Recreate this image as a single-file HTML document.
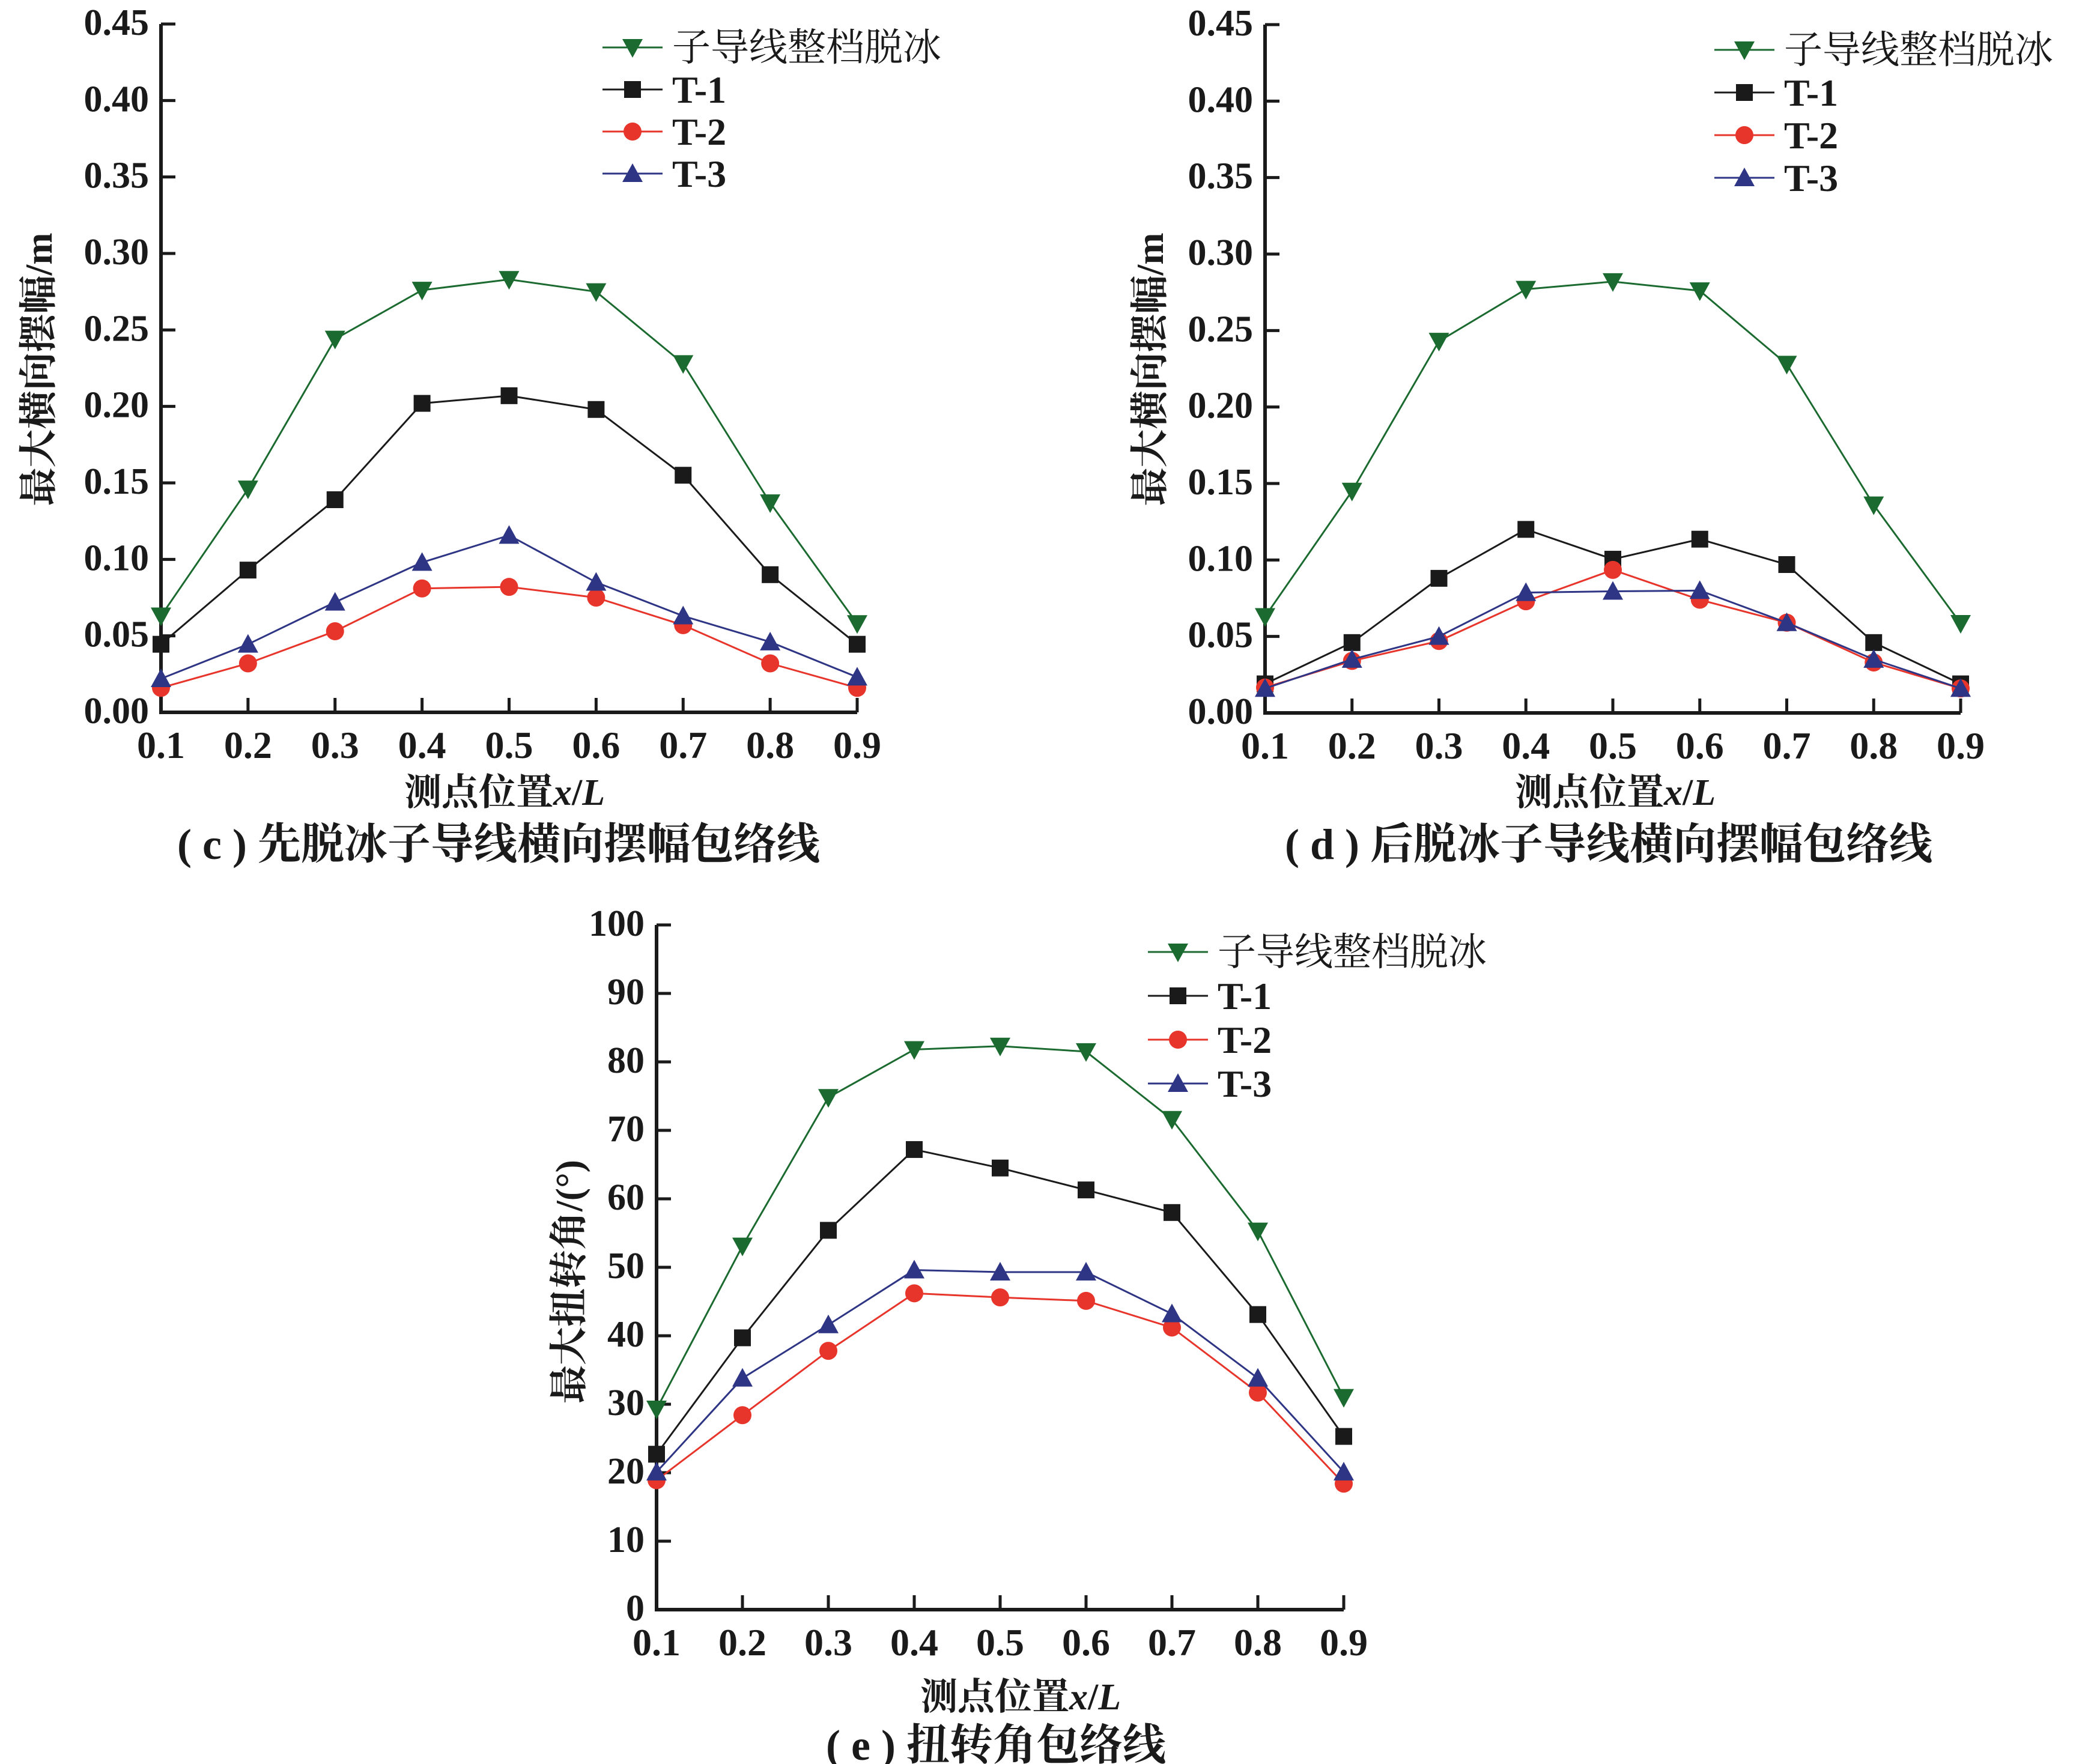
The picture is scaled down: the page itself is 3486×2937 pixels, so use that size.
<!DOCTYPE html>
<html><head><meta charset="utf-8">
<style>
html,body{margin:0;padding:0;background:#fff;}
svg{display:block;}
text{font-family:"Liberation Serif","Noto Serif CJK SC",serif;fill:#1a1a1a;}
</style></head>
<body>
<svg id="fig" width="3486" height="2937" viewBox="0 0 3486 2937" xmlns="http://www.w3.org/2000/svg"></svg>
<script>
// ---- data ----
const xCats = [0.1,0.2,0.3,0.4,0.5,0.6,0.7,0.8,0.9];
const xTickLabels = ["0.1","0.2","0.3","0.4","0.5","0.6","0.7","0.8","0.9"];
const ampTickLabels = ["0.00","0.05","0.10","0.15","0.20","0.25","0.30","0.35","0.40","0.45"];
const ampTicks = [0,0.05,0.1,0.15,0.2,0.25,0.3,0.35,0.4,0.45];
const angTickLabels = ["0","10","20","30","40","50","60","70","80","90","100"];
const angTicks = [0,10,20,30,40,50,60,70,80,90,100];
const seriesNames = ["子导线整档脱冰","T-1","T-2","T-3"];

const cGreen = [0.063,0.146,0.244,0.276,0.283,0.275,0.228,0.137,0.058];
const cT1 = [0.0445,0.093,0.139,0.202,0.207,0.198,0.155,0.090,0.0445];
const cT2 = [0.016,0.032,0.053,0.081,0.082,0.075,0.057,0.032,0.016];
const cT3 = [0.022,0.0445,0.072,0.098,0.1157,0.085,0.063,0.046,0.023];

const dGreen = [0.063,0.145,0.243,0.277,0.282,0.276,0.228,0.136,0.0585];
const dT1 = [0.019,0.046,0.088,0.120,0.1005,0.1136,0.097,0.046,0.019];
const dT2 = [0.0166,0.034,0.047,0.073,0.0935,0.074,0.059,0.033,0.016];
const dT3 = [0.016,0.035,0.050,0.0787,0.0795,0.080,0.059,0.035,0.016];

const eGreen = [29.3,53.1,74.8,81.8,82.3,81.5,71.6,55.3,31.0];
const eT1 = [22.7,39.7,55.4,67.2,64.5,61.3,58.0,43.1,25.3];
const eT2 = [18.9,28.4,37.8,46.2,45.6,45.1,41.2,31.7,18.4];
const eT3 = [20.1,33.8,41.6,49.6,49.3,49.3,43.2,33.8,20.1];

const NS = "http://www.w3.org/2000/svg";
const svg = document.getElementById('fig');
function mk(tag, attrs, parent){
  const e = document.createElementNS(NS, tag);
  for (const k in attrs) e.setAttribute(k, attrs[k]);
  (parent||svg).appendChild(e);
  return e;
}
const colors = ["#1b6a2f","#1a1a1a","#e8352b","#2f3585"];
const markers = ["tdown","square","circle","tup"];

function marker(g, type, x, y, col){
  const s = 14;
  let e;
  if (type==="square") e = mk('rect',{x:x-s,y:y-s,width:2*s,height:2*s,fill:col},g);
  else if (type==="circle") e = mk('circle',{cx:x,cy:y,r:s+1,fill:col},g);
  else if (type==="tup") e = mk('polygon',{points:`${x},${y-s-3} ${x+s+3},${y+s} ${x-s-3},${y+s}`,fill:col},g);
  else e = mk('polygon',{points:`${x},${y+s+3} ${x+s+3},${y-s} ${x-s-3},${y-s}`,fill:col},g);
  
  
}

function panel(cfg){
  const g = mk('g',{});
  
  
  const {x0,x9,y0,yTop,ymax} = cfg;
  const sx = v => x0 + (v-0.1)/0.8*(x9-x0);
  const sy = v => y0 - v/ymax*(y0-yTop);
  const ax = mk('path',{d:`M${x0},${yTop} L${x0},${y0} L${x9},${y0}`,stroke:"#1a1a1a","stroke-width":6,fill:"none"},g);
  
  
  cfg.yTicks.forEach((v,i)=>{
    const y = sy(v);
    mk('line',{x1:x0,y1:y,x2:x0+24,y2:y,stroke:"#1a1a1a","stroke-width":5},g);
    const t = mk('text',{x:x0-20,y:y+18,"text-anchor":"end","font-size":62,"font-weight":"bold"},g);
    t.textContent = cfg.yLabels[i];
    
    
  });
  xCats.forEach((v,i)=>{
    const x = sx(v);
    if (i>0) mk('line',{x1:x,y1:y0,x2:x,y2:y0-24,stroke:"#1a1a1a","stroke-width":5},g);
    const t = mk('text',{x:x,y:y0+76,"text-anchor":"middle","font-size":64,"font-weight":"bold"},g);
    t.textContent = xTickLabels[i];
    
    
  });
  cfg.series.forEach((arr,si)=>{
    const sg = mk('g',{},g);
    
    
    const pts = arr.map((v,i)=>`${sx(xCats[i])},${sy(v)}`).join(' ');
    mk('polyline',{points:pts,fill:"none",stroke:colors[si],"stroke-width":3},sg);
    arr.forEach((v,i)=>marker(sg,markers[si],sx(xCats[i]),sy(v),colors[si]));
  });
  const lg = mk('g',{},g);
  
  
  seriesNames.forEach((n,i)=>{
    const y = cfg.legY + i*cfg.legDy;
    const eg = mk('g',{},lg);
    
    
    mk('line',{x1:cfg.legX,y1:y,x2:cfg.legX+100,y2:y,stroke:colors[i],"stroke-width":3},eg);
    marker(eg,markers[i],cfg.legX+50,y,colors[i]);
    const t = mk('text',{x:cfg.legX+116,y:y+22,"font-size":64,"font-weight":i===0?"normal":"bold"},eg);
    t.textContent = n;
  });
  const xt = mk('text',{x:cfg.xtX,y:cfg.xtY,"text-anchor":"middle","font-size":62,"font-weight":"bold"},g);
  xt.innerHTML = '测点位置<tspan font-style="italic">x</tspan>/<tspan font-style="italic">L</tspan>';
  
  
  const yt = mk('text',{x:0,y:0,"text-anchor":"middle","font-size":64,"font-weight":"bold",transform:`translate(${cfg.ytX},${cfg.ytY}) rotate(-90)`},g);
  yt.textContent = cfg.yTitle;
  
  
  const cap = mk('text',{x:cfg.capX,y:cfg.capY,"text-anchor":"middle","font-size":72,"font-weight":"bold"},g);
  cap.textContent = cfg.caption;
  
  
}

panel({name:'panel-c',x0:268,x9:1427,y0:1186,yTop:40,ymax:0.45,yTicks:ampTicks,yLabels:ampTickLabels,
  series:[cGreen,cT1,cT2,cT3],legX:1003,legY:79,legDy:70,
  xtX:840,xtY:1340,ytX:86,ytY:615,yTitle:'最大横向摆幅/m',capX:830,capY:1430,caption:'( c ) 先脱冰子导线横向摆幅包络线'});
panel({name:'panel-d',x0:2106,x9:3264,y0:1187,yTop:41,ymax:0.45,yTicks:ampTicks,yLabels:ampTickLabels,
  series:[dGreen,dT1,dT2,dT3],legX:2854,legY:83,legDy:71,
  xtX:2689,xtY:1340,ytX:1936,ytY:615,yTitle:'最大横向摆幅/m',capX:2678,capY:1430,caption:'( d ) 后脱冰子导线横向摆幅包络线'});
panel({name:'panel-e',x0:1093,x9:2237,y0:2680,yTop:1540,ymax:100,yTicks:angTicks,yLabels:angTickLabels,
  series:[eGreen,eT1,eT2,eT3],legX:1911,legY:1585,legDy:73,
  xtX:1699,xtY:2846,ytX:969,ytY:2134,yTitle:'最大扭转角/(°)',capX:1658,capY:2930,caption:'( e ) 扭转角包络线'});
</script>
</body></html>
